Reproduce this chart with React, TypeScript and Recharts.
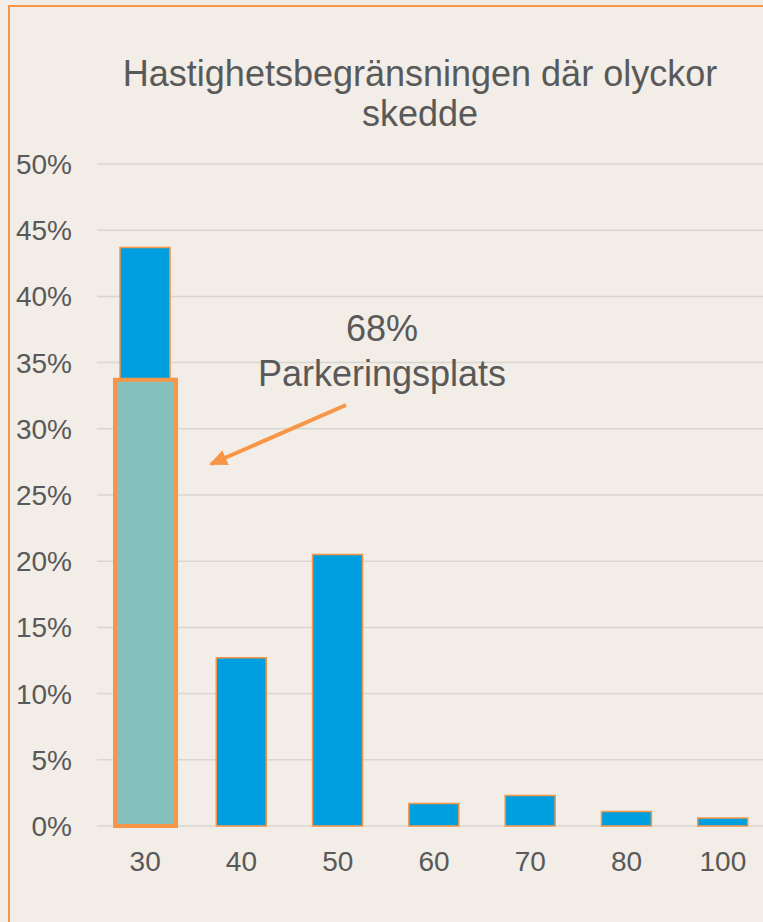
import React from 'react';
import { BarChart, Bar, XAxis, YAxis, CartesianGrid } from 'recharts';

const speedLimits = ['30', '40', '50', '60', '70', '80', '100'];
const accidentShare = [43.7, 12.7, 20.5, 1.7, 2.3, 1.1, 0.6];
const parkingShare = [33.7, null, null, null, null, null, null];
const yTicks = [0, 5, 10, 15, 20, 25, 30, 35, 40, 45, 50];

const titleLines = ['Hastighetsbegränsningen där olyckor', 'skedde'];
const noteLines = ['68%', 'Parkeringsplats'];

const data = speedLimits.map((s, i) => ({
  speed: s,
  share: accidentShare[i],
  parking: parkingShare[i],
}));

const BG = '#F2EDE6';
const ORANGE = '#F79646';
const BLUE = '#009FDF';
const TEAL = '#85C0BC';
const TEXT = '#595959';
const FONT = '"Liberation Sans", Arial, sans-serif';

export default function App() {
  return (
    <div style={{ position: 'fixed', inset: 0, overflow: 'hidden', background: BG, fontFamily: FONT }}>
      <div
        style={{
          position: 'absolute',
          left: 8,
          top: 5,
          width: 820,
          height: 980,
          border: `2px solid ${ORANGE}`,
          boxSizing: 'border-box',
        }}
      />
      <div style={{ position: 'absolute', left: 0, top: 0 }}>
        <BarChart
          width={800}
          height={922}
          data={data}
          margin={{ top: 164, right: 29, left: 0, bottom: 36 }}
        >
          <CartesianGrid vertical={false} stroke="#D9D6D0" strokeWidth={1.5} />
          <XAxis
            dataKey="speed"
            axisLine={false}
            tickLine={false}
            tickSize={0}
            tickMargin={25}
            height={60}
            tick={{ fill: TEXT, fontSize: 28, fontFamily: FONT }}
          />
          <XAxis xAxisId="park" dataKey="speed" hide />
          <YAxis
            domain={[0, 50]}
            ticks={yTicks}
            width={97}
            axisLine={false}
            tickLine={false}
            tickSize={0}
            tickMargin={25}
            tickFormatter={(v) => `${v}%`}
            tick={{ fill: TEXT, fontSize: 28, fontFamily: FONT }}
          />
          <Bar
            dataKey="share"
            barSize={50}
            fill={BLUE}
            stroke={ORANGE}
            strokeWidth={1.5}
            isAnimationActive={false}
          />
          <Bar
            dataKey="parking"
            xAxisId="park"
            barSize={61}
            fill={TEAL}
            stroke={ORANGE}
            strokeWidth={4}
            isAnimationActive={false}
          />
        </BarChart>
      </div>
      <svg
        width={763}
        height={922}
        style={{ position: 'absolute', left: 0, top: 0, pointerEvents: 'none' }}
      >
        <defs>
          <marker
            id="arrowhead"
            markerUnits="userSpaceOnUse"
            markerWidth={18}
            markerHeight={16}
            refX={16}
            refY={8}
            orient="auto"
          >
            <path d="M0,0 L18,8 L0,16 z" fill={ORANGE} />
          </marker>
        </defs>
        {titleLines.map((t, i) => (
          <text key={t} x={420} y={86 + i * 40} textAnchor="middle" fontSize={36} fill={TEXT} fontFamily={FONT}>
            {t}
          </text>
        ))}
        {noteLines.map((t, i) => (
          <text key={t} x={382} y={341 + i * 45} textAnchor="middle" fontSize={36} fill={TEXT} fontFamily={FONT}>
            {t}
          </text>
        ))}
        <line x1={346} y1={405} x2={211} y2={464} stroke={ORANGE} strokeWidth={4} markerEnd="url(#arrowhead)" />
      </svg>
    </div>
  );
}
